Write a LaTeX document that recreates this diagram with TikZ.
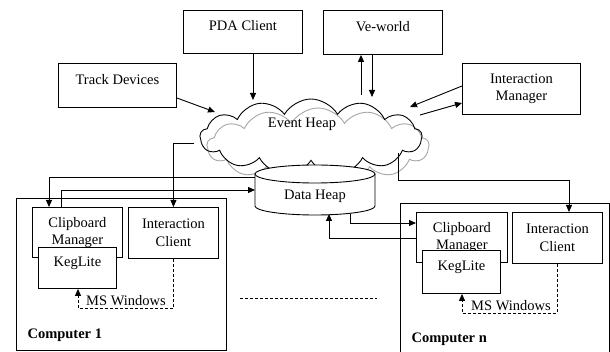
\documentclass[tikz,border=0pt]{standalone}
\usepackage{fontspec}
\setmainfont{Liberation Serif}
\usetikzlibrary{shapes.symbols,arrows.meta,calc}
\begin{document}
\begin{tikzpicture}[x=1pt,y=1pt,
  every node/.style={font=\fontsize{14.5}{17.5}\selectfont},
  box/.style={draw,line width=0.9pt,fill=white,align=center,inner sep=0pt,anchor=north west},
  topt/.style={text depth=12pt},
  conn/.style={line width=0.9pt,-{Triangle[length=7pt,width=6pt]}},
  dconn/.style={line width=0.9pt,dashed,dash pattern=on 3pt off 2pt,-{Triangle[length=7pt,width=6pt]}},
  dline/.style={line width=0.9pt,dash pattern=on 3pt off 2pt},
  cloudsh/.style={cloud,cloud puffs=13,cloud puff arc=120,aspect=2.9,inner sep=0pt,minimum width=222pt,minimum height=76pt}]
\useasboundingbox (0,0) rectangle (610,-352);
% computers
\node[box,minimum width=210pt,minimum height=152pt] (c1) at (16,-198) {};
\node[box,minimum width=209pt,minimum height=160pt] (cn) at (400,-203) {};
\node[anchor=south west,font=\fontsize{14.5}{17.5}\selectfont\bfseries] (c1l) at (24,-345) {Computer 1};
\node[anchor=south west,font=\fontsize{14.5}{17.5}\selectfont\bfseries] (cnl) at (408,-349) {Computer n};
% top boxes
\node[box,topt,minimum width=119pt,minimum height=43pt] (pda) at (183,-10) {PDA Client};
\node[box,topt,minimum width=118pt,minimum height=44pt] (td) at (58,-63) {Track Devices};
\node[box,topt,minimum width=119pt,minimum height=44pt] (vw) at (323,-10) {Ve-world};
\node[box,minimum width=118pt,minimum height=51pt] (im) at (462,-63) {Interaction\\Manager};
% cloud
\node[cloudsh,draw=gray!70,line width=0.9pt] (eh2) at (318,-146) {};
\node[cloudsh,draw,line width=0.9pt] (eh) at (311,-137) {};
\node (ehl) at (302,-124) {Event Heap};
% data heap cylinder
\draw[line width=0.9pt,fill=white] (255,-174) -- (255,-206) arc[start angle=180,end angle=360,x radius=60,y radius=9] -- (375,-174);
\draw[line width=0.9pt,fill=white] (315,-174) ellipse[x radius=60,y radius=9];
\node[minimum width=120pt,minimum height=50pt,inner sep=0pt] (dh) at (315,-192) {};
\node (dhl) at (315,-196) {Data Heap};
% computer 1 inner
\node[box,minimum width=90pt,minimum height=50pt] (cb1) at (32,-207) {Clipboard\\Manager};
\node[box,topt,minimum width=78pt,minimum height=41pt] (kl1) at (38,-247) {KegLite};
\node[box,minimum width=90pt,minimum height=51pt] (ic1) at (128,-207) {Interaction\\Client};
% computer n inner
\node[box,minimum width=91pt,minimum height=50pt] (cbn) at (416,-212) {Clipboard\\Manager};
\node[box,topt,minimum width=78pt,minimum height=43pt] (kln) at (422,-250) {KegLite};
\node[box,minimum width=90pt,minimum height=51pt] (icn) at (512,-212) {Interaction\\Client};
% MS Windows labels
\node (ms1) at (126,-301) {MS Windows};
\node (msn) at (511,-306) {MS Windows};
% connectors top
\draw[conn] (td.south east |- 0,-98) -- (215,-112);
\draw[conn] (pda.south -| 253,0) -- (253,-100);
\draw[conn] (361,-95) -- (vw.south -| 361,0);
\draw[conn] (vw.south -| 372,0) -- (372,-97);
\draw[conn] (im.west |- 0,-86) -- (410,-107);
\draw[conn] (420,-115) -- (im.west |- 0,-103);
% cloud to interaction clients
\draw[conn] (194,-143) -| (ic1.north);
\draw[conn] (398,-153) |- (569,-180) -- (icn.north -| 569,0);
% data heap <-> clipboard 1
\draw[conn] (255,-177) -| (cb1.north -| 49,0);
\draw[conn] (cb1.north -| 61,0) |- (255,-190);
% data heap <-> clipboard n
\draw[conn] (350,-214) |- (cbn.west |- 0,-223);
\draw[conn] (cbn.west |- 0,-238) -| (329,-214);
% MS Windows dashed
\draw[dconn] (ic1.south) |- (78,-308) -- (kl1.south -| 78,0);
\draw[dconn] (icn.south -| 557,0) |- (462,-313) -- (kln.south -| 462,0);
% middle dashed
\draw[dline] (240,-298) -- (377,-298);
\end{tikzpicture}
\end{document}
